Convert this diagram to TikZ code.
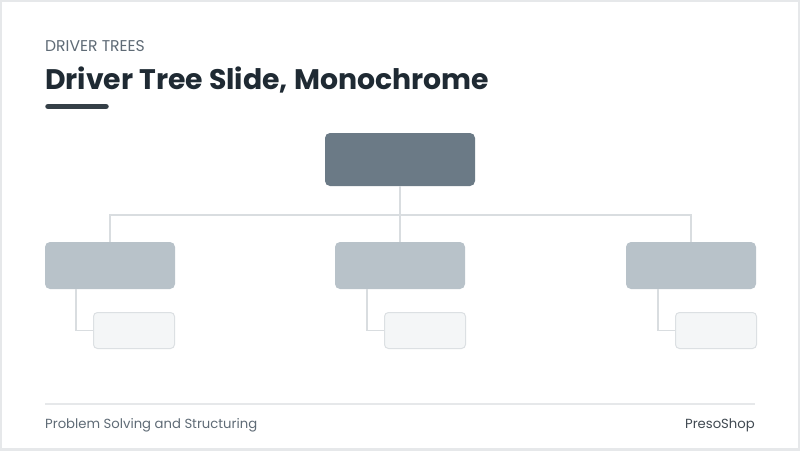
\documentclass[tikz,border=0pt]{standalone}
\usepackage{fontspec}
\setmainfont{Poppins}
\usetikzlibrary{positioning}
\definecolor{frameclr}{HTML}{E6E8EA}
\definecolor{inkclr}{HTML}{1F2A33}
\definecolor{greyclr}{HTML}{5F6B76}
\definecolor{rootclr}{HTML}{6B7A86}
\definecolor{midclr}{HTML}{B8C2C9}
\definecolor{leafclr}{HTML}{F4F6F7}
\definecolor{leafline}{HTML}{DCE0E3}
\definecolor{linkclr}{HTML}{D9DDE0}

\begin{document}
\begin{tikzpicture}[x=1pt,y=-1pt,
		rootbox/.style={fill=rootclr,rounded corners=5pt,minimum width=150pt,minimum height=53pt,inner sep=0pt},
		midbox/.style={fill=midclr,rounded corners=5pt,minimum width=130pt,minimum height=47pt,inner sep=0pt},
		leafbox/.style={fill=leafclr,draw=leafline,line width=1pt,rounded corners=4pt,minimum width=81pt,minimum height=36pt,inner sep=0pt},
		link/.style={draw=linkclr,line width=1.6pt}]
				\useasboundingbox (0,0) rectangle (800,450);
				\fill[white] (0,0) rectangle (800,450);
				\draw[frameclr,line width=4pt] (0,0) rectangle (800,450);

				% heading
				\node[anchor=base west,inner sep=0pt,text=greyclr,font=\fontsize{15.6}{18}\selectfont] (kicker) at (45,51.5) {DRIVER TREES};
				\node[anchor=base west,inner sep=0pt,text=inkclr,font=\fontsize{28.3}{32}\bfseries] (title) at (45,89.5) {Driver Tree Slide, Monochrome};
				\draw[inkclr!90,line width=5.5pt,line cap=round] (48,106.5) -- (106,106.5);

				% tree
				\node[rootbox] (root) at (400,159.5) {};
				\node[midbox] (lft) at (110,265.5) {};
				\node[midbox] (mid) at (400,265.5) {};
				\node[midbox] (rgt) at (691,265.5) {};
				\node[leafbox] (lftsub) at (134,330.5) {};
				\node[leafbox] (midsub) at (425,330.5) {};
				\node[leafbox] (rgtsub) at (716,330.5) {};

				\coordinate (bar) at (400,215);
				\draw[link] (lft.north) |- (bar) -| (rgt.north);
				\draw[link] (root.south) -- (mid.north);
				\draw[link] ([xshift=31pt]lft.south west) |- (lftsub.west);
				\draw[link] ([xshift=32pt]mid.south west) |- (midsub.west);
				\draw[link] ([xshift=32pt]rgt.south west) |- (rgtsub.west);

				% footer
				\draw[frameclr,line width=1.6pt] (45,404) -- (755,404);
				\node[anchor=base west,inner sep=0pt,text=greyclr,font=\fontsize{13.2}{15}\selectfont] (topic) at (45,428.5) {Problem Solving and Structuring};
				\node[anchor=base east,inner sep=0pt,text=inkclr!85,font=\fontsize{13.2}{15}\selectfont] (brand) at (755,428.5) {PresoShop};
			\end{tikzpicture}
\end{document}
